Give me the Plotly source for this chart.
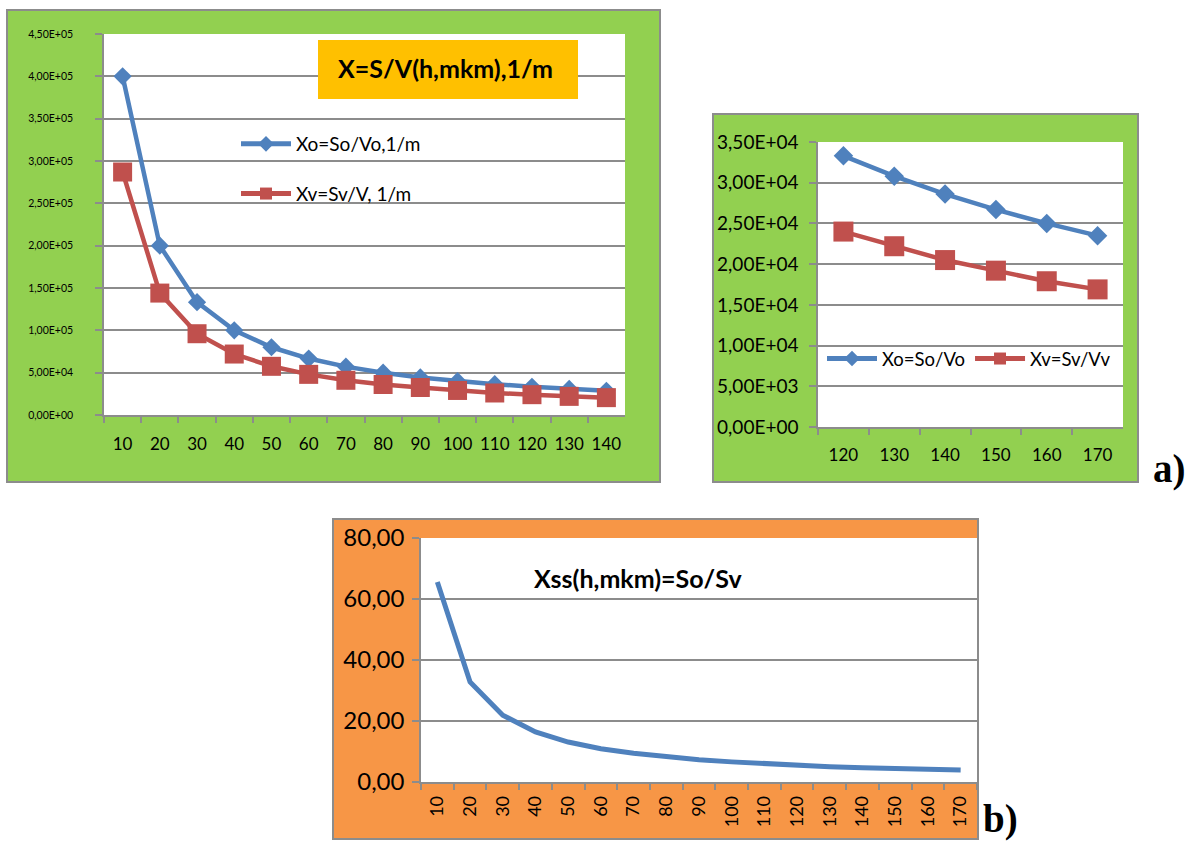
import plotly.graph_objects as go

W, H = 1187, 842

# ---- data -------------------------------------------------------------
# panel a), left: Xo and Xv versus h (mkm)
h_a = ["10", "20", "30", "40", "50", "60", "70", "80", "90", "100", "110", "120", "130", "140"]
xo_a = [400000, 200000, 133300, 100000, 80000, 66700, 57100, 50000, 44400, 40000, 36400, 33300, 30800, 28600]
xv_a = [287000, 144000, 96000, 72000, 57500, 48000, 41000, 36000, 32500, 29000, 26000, 24000, 22000, 20500]

# panel a), right: zoom on h = 120..170
h_b = ["120", "130", "140", "150", "160", "170"]
xo_b = [33300, 30800, 28600, 26700, 25000, 23500]
xv_b = [24000, 22200, 20500, 19200, 17900, 16900]

# panel b): Xss = So/Sv
h_c = ["10", "20", "30", "40", "50", "60", "70", "80", "90", "100", "110", "120", "130", "140", "150", "160", "170"]
xss = [65.6, 32.8, 21.9, 16.4, 13.1, 10.9, 9.4, 8.2, 7.3, 6.6, 6.0, 5.5, 5.0, 4.7, 4.4, 4.1, 3.9]

# tick labels
ya_vals = [0, 50000, 100000, 150000, 200000, 250000, 300000, 350000, 400000, 450000]
ya_text = ["0,00E+00", "5,00E+04", "1,00E+05", "1,50E+05", "2,00E+05",
           "2,50E+05", "3,00E+05", "3,50E+05", "4,00E+05", "4,50E+05"]
yb_vals = [0, 5000, 10000, 15000, 20000, 25000, 30000, 35000]
yb_text = ["0,00E+00", "5,00E+03", "1,00E+04", "1,50E+04",
           "2,00E+04", "2,50E+04", "3,00E+04", "3,50E+04"]
yc_vals = [0, 20, 40, 60, 80]
yc_text = ["0,00", "20,00", "40,00", "60,00", "80,00"]

# ---- style ------------------------------------------------------------
BLUE = "#4F81BD"
RED = "#C0504D"
GREEN = "#92D050"
ORANGE = "#F79646"
TITLE_BG = "#FFC000"
GRAY = "#8C8C8C"
FONT = "Lato"


def px_x(x):
    return x / W


def px_y(y):
    return 1 - y / H


def dom_x(x0, x1):
    return [px_x(x0), px_x(x1)]


def dom_y(y0, y1):
    return [px_y(y1), px_y(y0)]


fig = go.Figure()

# panel a) left
fig.add_trace(go.Scatter(
    x=h_a, y=xo_a, name="Xo=So/Vo,1/m", mode="lines+markers",
    line=dict(color=BLUE, width=4.5), marker=dict(symbol="diamond", size=14, color=BLUE),
    xaxis="x", yaxis="y", legend="legend", legendgroup="a1", cliponaxis=False))
fig.add_trace(go.Scatter(
    x=h_a, y=xv_a, name="Xv=Sv/V, 1/m", mode="lines+markers",
    line=dict(color=RED, width=4.5), marker=dict(symbol="square", size=19, color=RED),
    xaxis="x", yaxis="y", legend="legend", legendgroup="a2", cliponaxis=False))

# panel a) right
fig.add_trace(go.Scatter(
    x=h_b, y=xo_b, name="Xo=So/Vo", mode="lines+markers",
    line=dict(color=BLUE, width=4.5), marker=dict(symbol="diamond", size=15, color=BLUE),
    xaxis="x2", yaxis="y2", legend="legend2", cliponaxis=False))
fig.add_trace(go.Scatter(
    x=h_b, y=xv_b, name="Xv=Sv/Vv", mode="lines+markers",
    line=dict(color=RED, width=4.5), marker=dict(symbol="square", size=20, color=RED),
    xaxis="x2", yaxis="y2", legend="legend2", cliponaxis=False))

# panel b)
fig.add_trace(go.Scatter(
    x=h_c, y=xss, name="Xss", mode="lines",
    line=dict(color=BLUE, width=5), xaxis="x3", yaxis="y3", showlegend=False))

# chart frames and white plot areas
frames = [
    (7, 10, 660, 482, GREEN, (104, 34, 625, 415)),
    (713, 114, 1138, 482, GREEN, (818, 142, 1123, 427)),
    (333, 519, 978, 839, ORANGE, (421, 538, 977, 782)),
]
shapes = []
for x0, y0, x1, y1, fill, (px0, py0, px1, py1) in frames:
    shapes.append(dict(type="rect", xref="paper", yref="paper", layer="below",
                       x0=px_x(x0), x1=px_x(x1), y0=px_y(y1), y1=px_y(y0),
                       fillcolor=fill, line=dict(color=GRAY, width=2)))
    shapes.append(dict(type="rect", xref="paper", yref="paper", layer="below",
                       x0=px_x(px0), x1=px_x(px1), y0=px_y(py1), y1=px_y(py0),
                       fillcolor="white", line=dict(width=0)))
# title box of the left chart
shapes.append(dict(type="rect", xref="paper", yref="paper", layer="above",
                   x0=px_x(318), x1=px_x(578), y0=px_y(99), y1=px_y(40),
                   fillcolor=TITLE_BG, line=dict(width=0)))


def cat_axis(domain, anchor, n, size, angle=0, standoff=8):
    return dict(type="category", domain=domain, anchor=anchor, range=[-0.5, n - 0.5],
                tickson="boundaries", ticks="outside", ticklen=6, tickwidth=1.5,
                tickcolor=GRAY, showline=True, linecolor=GRAY, linewidth=1.5,
                showgrid=False, zeroline=False, tickangle=angle, automargin=False,
                ticklabelstandoff=standoff,
                tickfont=dict(family=FONT, size=size, color="black"))


def val_axis(domain, anchor, rng, vals, text, size, standoff):
    return dict(domain=domain, anchor=anchor, range=rng, tickmode="array",
                tickvals=vals, ticktext=text, ticks="outside", ticklen=7, tickwidth=1.5,
                tickcolor=GRAY, showline=True, linecolor=GRAY, linewidth=1.5,
                showgrid=True, gridcolor=GRAY, gridwidth=1.5, zeroline=False,
                automargin=False, ticklabelstandoff=standoff,
                tickfont=dict(family=FONT, size=size, color="black"))


fig.update_layout(
    width=W, height=H, autosize=False,
    margin=dict(l=0, r=0, t=0, b=0, pad=0, autoexpand=False),
    paper_bgcolor="white", plot_bgcolor="rgba(0,0,0,0)",
    xaxis=cat_axis(dom_x(104, 625), "y", len(h_a), 17, standoff=13),
    yaxis=val_axis(dom_y(34, 415), "x", [0, 450000], ya_vals, ya_text, 10.5, 20),
    xaxis2=cat_axis(dom_x(818, 1123), "y2", len(h_b), 17, standoff=12),
    yaxis2=val_axis(dom_y(142, 427), "x2", [0, 35000], yb_vals, yb_text, 19, 7),
    xaxis3=cat_axis(dom_x(421, 977), "y3", len(h_c), 18, angle=-90, standoff=5),
    yaxis3=val_axis(dom_y(538, 782), "x3", [0, 80], yc_vals, yc_text, 24, 3),
    shapes=shapes,
    legend=dict(x=px_x(236), y=px_y(125), xanchor="left", yanchor="top",
                bgcolor="rgba(0,0,0,0)", traceorder="grouped", tracegroupgap=22,
                itemsizing="constant", itemwidth=50,
                font=dict(family=FONT, size=19, color="black")),
    legend2=dict(x=px_x(822), y=px_y(359), xanchor="left", yanchor="middle",
                 orientation="h", bgcolor="rgba(0,0,0,0)", itemsizing="constant",
                 itemwidth=50, font=dict(family=FONT, size=18.5, color="black")),
    annotations=[
        dict(text="<b>X=S/V(h,mkm),1/m</b>", xref="paper", yref="paper",
             x=px_x(445), y=px_y(68), xanchor="center", yanchor="middle", showarrow=False,
             font=dict(family=FONT, size=25, color="black")),
        dict(text="<b>Xss(h,mkm)=So/Sv</b>", xref="paper", yref="paper",
             x=px_x(638), y=px_y(578), xanchor="center", yanchor="middle", showarrow=False,
             font=dict(family=FONT, size=25, color="black")),
        dict(text="<b>a)</b>", xref="paper", yref="paper",
             x=px_x(1151), y=px_y(469), xanchor="left", yanchor="middle", showarrow=False,
             font=dict(family="Liberation Serif", size=39, color="black")),
        dict(text="<b>b)</b>", xref="paper", yref="paper",
             x=px_x(981), y=px_y(819), xanchor="left", yanchor="middle", showarrow=False,
             font=dict(family="Liberation Serif", size=39, color="black")),
    ],
)

fig.write_html("out.html")
